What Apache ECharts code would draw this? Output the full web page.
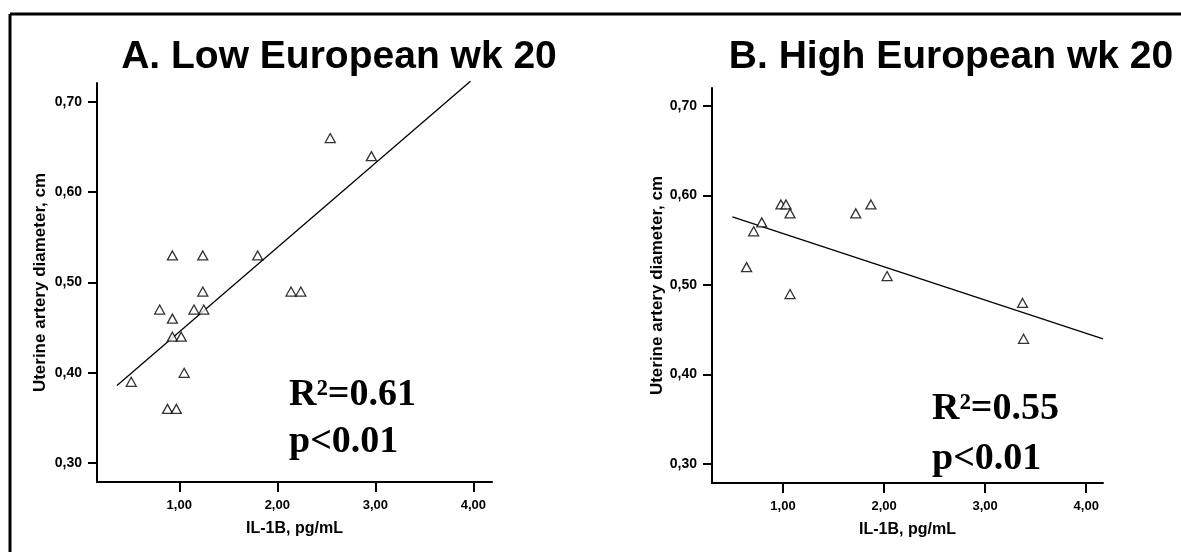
<!DOCTYPE html>
<html>
<head>
<meta charset="utf-8">
<script src="https://cdn.jsdelivr.net/npm/echarts@6/dist/echarts.min.js"></script>
<style>
	html, body { margin: 0; padding: 0; background: #fff; }
	#chart { width: 1181px; height: 552px; }
</style>
</head>
<body>
<div id="chart"></div>
<script>
	// A. Low European wk 20
	const lowIl1b = [0.51, 0.80, 0.93, 0.93, 0.93, 1.02, 0.88, 0.97, 1.05, 1.24, 1.24, 1.15, 1.25, 1.80, 2.14, 2.24, 2.54, 2.96]
	const lowDiameter = [0.39, 0.47, 0.53, 0.46, 0.44, 0.44, 0.36, 0.36, 0.40, 0.53, 0.49, 0.47, 0.47, 0.53, 0.49, 0.49, 0.66, 0.64]
	const lowFitX = [0.365, 3.97]
	const lowFitY = [0.386, 0.723]

	// B. High European wk 20
	const highIl1b = [0.64, 0.71, 0.79, 0.98, 1.03, 1.07, 1.07, 1.72, 1.87, 2.03, 3.37, 3.38]
	const highDiameter = [0.52, 0.56, 0.57, 0.59, 0.59, 0.58, 0.49, 0.58, 0.59, 0.51, 0.48, 0.44]
	const highFitX = [0.50, 4.166]
	const highFitY = [0.576, 0.440]

	const xTicks = [1, 2, 3, 4]
	const yTicks = [0.3, 0.4, 0.5, 0.6, 0.7]

	const pairs = (xs, ys) => xs.map((x, i) => [x, ys[i]])
	const comma = v => v.toFixed(2).replace('.', ',')
	const sans = 'Liberation Sans, Arial, sans-serif'
	const serif = 'Liberation Serif, Times New Roman, serif'

	const axisLine = { onZero: false, lineStyle: { color: '#000', width: 2 } }

	const xAxisOf = (gridIndex, min, max) => ({
		gridIndex: gridIndex,
		type: 'value',
		min: min,
		max: max,
		name: 'IL-1B, pg/mL',
		nameLocation: 'middle',
		nameGap: 39,
		nameTextStyle: { color: '#000', fontFamily: sans, fontWeight: 'bold', fontSize: 16 },
		axisLine: axisLine,
		axisTick: { customValues: xTicks, length: 10, lineStyle: { color: '#000', width: 2 } },
		axisLabel: { customValues: xTicks, formatter: comma, margin: 17, color: '#000', fontFamily: sans, fontWeight: 'bold', fontSize: 13 },
		splitLine: { show: false }
	})

	const yAxisOf = (gridIndex, min, max, gap) => ({
		gridIndex: gridIndex,
		type: 'value',
		min: min,
		max: max,
		name: 'Uterine artery diameter, cm',
		nameLocation: 'middle',
		nameGap: gap,
		nameTextStyle: { color: '#000', fontFamily: sans, fontWeight: 'bold', fontSize: 17 },
		axisLine: axisLine,
		axisTick: { customValues: yTicks, length: 9, lineStyle: { color: '#000', width: 2 } },
		axisLabel: { customValues: yTicks, formatter: comma, margin: 15, color: '#000', fontFamily: sans, fontWeight: 'bold', fontSize: 14 },
		splitLine: { show: false }
	})

	const scatterOf = (i, xs, ys) => ({
		type: 'scatter',
		xAxisIndex: i,
		yAxisIndex: i,
		symbol: 'triangle',
		symbolSize: [10, 9],
		itemStyle: { color: '#fff', borderColor: '#000', borderWidth: 1.3 },
		z: 3,
		data: pairs(xs, ys)
	})

	const fitOf = (i, xs, ys) => ({
		type: 'line',
		xAxisIndex: i,
		yAxisIndex: i,
		symbol: 'none',
		clip: false,
		lineStyle: { color: '#000', width: 1.3 },
		z: 2,
		data: pairs(xs, ys)
	})

	const statText = (x, y, text) => ({
		type: 'text',
		x: x,
		y: y,
		style: { text: text, fill: '#000', font: 'bold 38px ' + serif, textVerticalAlign: 'bottom' }
	})

	let myChart = echarts.init(document.getElementById('chart'))
	const option = {
		animation: false,
		backgroundColor: '#fff',
		title: [{
			text: 'A. Low European wk 20',
			left: 334,
			top: 33,
			textAlign: 'center',
			textStyle: { color: '#000', fontFamily: sans, fontWeight: 'bold', fontSize: 39 }
		}, {
			text: 'B. High European wk 20',
			left: 946,
			top: 33,
			textAlign: 'center',
			textStyle: { color: '#000', fontFamily: sans, fontWeight: 'bold', fontSize: 39 }
		}],
		grid: [
			{ left: 97, top: 83, width: 395, height: 399 },
			{ left: 712, top: 88, width: 391, height: 395 }
		],
		xAxis: [xAxisOf(0, 0.161, 4.19), xAxisOf(1, 0.298, 4.166)],
		yAxis: [yAxisOf(0, 0.279, 0.721, 48), yAxisOf(1, 0.279, 0.72, 37)],
		series: [
			fitOf(0, lowFitX, lowFitY),
			scatterOf(0, lowIl1b, lowDiameter),
			fitOf(1, highFitX, highFitY),
			scatterOf(1, highIl1b, highDiameter)
		],
		graphic: [
			{ type: 'line', shape: { x1: 10, y1: 14, x2: 10, y2: 552 }, style: { stroke: '#000', lineWidth: 3 } },
			{ type: 'line', shape: { x1: 10, y1: 14, x2: 1181, y2: 14 }, style: { stroke: '#000', lineWidth: 3 } },
			statText(289, 414, 'R²=0.61'),
			statText(289, 461, 'p<0.01'),
			statText(932, 428, 'R²=0.55'),
			statText(932, 478, 'p<0.01')
		]
	}
	myChart.setOption(option)
</script>
</body>
</html>
